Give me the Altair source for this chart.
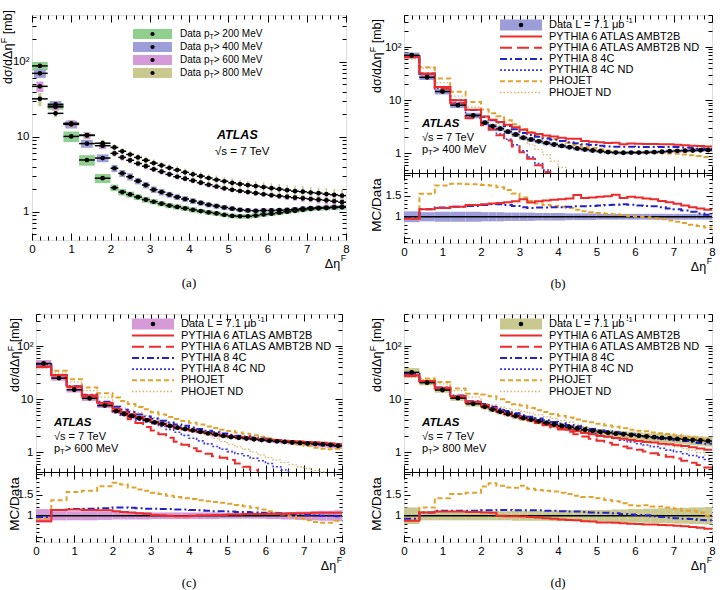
import altair as alt
import pandas as pd

FONT = "Liberation Sans"
SERIF = "Liberation Serif"

# ---------------- data ----------------
BIN_EDGES = [0.0, 0.4, 0.8, 1.2, 1.6, 2.0] + [round(2.0 + 0.2 * i, 1) for i in range(1, 31)]

# measured d(sigma)/d(Delta eta^F) [mb], one value per bin
D200 = [88, 25.5, 10.1, 4.9, 2.8, 2.09, 1.83, 1.70, 1.57, 1.45, 1.36, 1.28, 1.21, 1.16, 1.11, 1.06, 1.02, 0.98,
        0.95, 0.91, 0.88, 0.87, 0.87, 0.89, 0.92, 0.94, 0.97, 1.00, 1.03, 1.06, 1.09, 1.11, 1.12, 1.14, 1.15]
D400 = [70, 27, 14.6, 8.1, 5.2, 3.8, 3.25, 2.93, 2.57, 2.27, 1.97, 1.83, 1.69, 1.57, 1.48, 1.39, 1.31, 1.24,
        1.19, 1.14, 1.10, 1.06, 1.04, 1.03, 1.04, 1.04, 1.05, 1.06, 1.08, 1.10, 1.12, 1.13, 1.14, 1.15, 1.16]
D600 = [47, 25, 15.1, 10.4, 7.6, 6.0, 5.3, 4.85, 4.4, 4.05, 3.68, 3.42, 3.15, 2.93, 2.76, 2.6, 2.44, 2.29,
        2.17, 2.05, 1.96, 1.89, 1.83, 1.77, 1.71, 1.66, 1.62, 1.58, 1.54, 1.51, 1.48, 1.45, 1.42, 1.38, 1.34]
D800 = [32, 20.5, 14.9, 10.5, 8.2, 7.2, 6.4, 5.8, 5.3, 4.85, 4.45, 4.15, 3.85, 3.6, 3.35, 3.15, 2.98, 2.82,
        2.67, 2.55, 2.43, 2.34, 2.26, 2.2, 2.13, 2.06, 2.0, 1.94, 1.88, 1.85, 1.8, 1.77, 1.72, 1.68, 1.64]

# relative total uncertainties (band half-heights)
E200 = [0.13, 0.10, 0.16, 0.16, 0.14, 0.10, 0.10, 0.09, 0.09, 0.09, 0.08, 0.08, 0.08, 0.08, 0.08, 0.08, 0.07, 0.07,
        0.07, 0.07, 0.07, 0.07, 0.07, 0.07, 0.07, 0.07, 0.07, 0.07, 0.07, 0.07, 0.07, 0.07, 0.07, 0.07, 0.07]
E400 = [0.13, 0.11, 0.12, 0.12, 0.12, 0.11, 0.11, 0.11, 0.10, 0.10, 0.10, 0.10, 0.09, 0.09, 0.09, 0.09, 0.08, 0.08,
        0.08, 0.08, 0.07, 0.07, 0.07, 0.07, 0.07, 0.07, 0.07, 0.07, 0.07, 0.07, 0.07, 0.07, 0.07, 0.07, 0.07]
E600 = [0.16, 0.11, 0.11, 0.11, 0.10, 0.09, 0.09, 0.09, 0.09, 0.09, 0.08, 0.08, 0.08, 0.08, 0.08, 0.08, 0.08, 0.08,
        0.08, 0.07, 0.07, 0.07, 0.07, 0.07, 0.07, 0.08, 0.08, 0.09, 0.09, 0.10, 0.10, 0.11, 0.12, 0.12, 0.13]
E800 = [0.20, 0.11, 0.11, 0.11, 0.11, 0.11, 0.11, 0.11, 0.11, 0.12, 0.12, 0.12, 0.12, 0.12, 0.13, 0.13, 0.13, 0.13,
        0.14, 0.14, 0.14, 0.14, 0.15, 0.15, 0.16, 0.16, 0.17, 0.17, 0.18, 0.18, 0.19, 0.19, 0.20, 0.20, 0.21]

# MC / Data ratios
R400_P6 = [0.95, 1.18, 1.21, 1.24, 1.28, 1.30, 1.32, 1.33, 1.35, 1.37, 1.42, 1.34, 1.37, 1.39, 1.41, 1.42, 1.44, 1.52,
           1.45, 1.46, 1.48, 1.49, 1.53, 1.45, 1.48, 1.46, 1.44, 1.42, 1.38, 1.35, 1.31, 1.27, 1.23, 1.20, 1.17]
R400_P8 = [0.97, 1.18, 1.22, 1.24, 1.26, 1.28, 1.30, 1.30, 1.28, 1.26, 1.23, 1.21, 1.22, 1.22, 1.23, 1.23, 1.24, 1.25,
           1.25, 1.26, 1.27, 1.28, 1.29, 1.30, 1.29, 1.27, 1.26, 1.25, 1.23, 1.20, 1.18, 1.15, 1.12, 1.08, 1.05]
R400_PH = [0.95, 1.55, 1.75, 1.79, 1.78, 1.76, 1.75, 1.71, 1.64, 1.56, 1.46, 1.38, 1.32, 1.28, 1.26, 1.24, 1.21, 1.17,
           1.13, 1.11, 1.09, 1.07, 1.06, 1.04, 1.02, 1.00, 0.99, 0.96, 0.94, 0.91, 0.88, 0.85, 0.81, 0.78, 0.74]
R600_P6 = [0.87, 1.14, 1.15, 1.14, 1.13, 1.11, 1.09, 1.08, 1.06, 1.05, 1.02, 1.01, 1.00, 0.99, 0.99, 1.00, 1.01, 1.01,
           1.02, 1.02, 1.03, 1.03, 1.04, 1.04, 1.04, 1.05, 1.05, 1.05, 1.06, 1.06, 1.06, 1.07, 1.07, 1.07, 1.07]
R600_P8 = [0.97, 1.14, 1.16, 1.17, 1.18, 1.20, 1.20, 1.19, 1.18, 1.17, 1.17, 1.16, 1.16, 1.15, 1.15, 1.14, 1.13, 1.12,
           1.11, 1.11, 1.10, 1.09, 1.09, 1.08, 1.07, 1.06, 1.06, 1.05, 1.04, 1.03, 1.02, 1.01, 1.00, 1.00, 0.99]
R600_PH = [0.93, 1.37, 1.57, 1.60, 1.71, 1.79, 1.75, 1.68, 1.63, 1.60, 1.55, 1.52, 1.48, 1.45, 1.42, 1.40, 1.37, 1.35,
           1.33, 1.31, 1.29, 1.26, 1.23, 1.19, 1.15, 1.11, 1.07, 1.03, 0.99, 0.94, 0.89, 0.85, 0.83, 0.83, 0.88]
R800_P6 = [0.88, 1.08, 1.10, 1.10, 1.09, 1.08, 1.07, 1.00, 0.99, 0.99, 0.98, 0.97, 0.96, 0.94, 0.93, 0.91, 0.90, 0.89,
           0.87, 0.86, 0.84, 0.84, 0.83, 0.82, 0.81, 0.80, 0.79, 0.79, 0.78, 0.77, 0.76, 0.75, 0.73, 0.71, 0.69]
R800_P8 = [0.93, 1.08, 1.12, 1.12, 1.12, 1.13, 1.13, 1.14, 1.14, 1.13, 1.13, 1.13, 1.13, 1.12, 1.12, 1.11, 1.10, 1.10,
           1.09, 1.08, 1.07, 1.07, 1.06, 1.04, 1.03, 1.02, 1.01, 0.99, 0.97, 0.96, 0.94, 0.93, 0.92, 0.90, 0.89]
R800_PH = [0.88, 1.20, 1.42, 1.52, 1.55, 1.70, 1.78, 1.72, 1.68, 1.67, 1.72, 1.65, 1.62, 1.60, 1.58, 1.55, 1.52, 1.48,
           1.45, 1.45, 1.42, 1.38, 1.35, 1.30, 1.25, 1.24, 1.25, 1.22, 1.22, 1.20, 1.17, 1.12, 1.12, 1.08, 1.00]

# non-diffractive MC predictions [mb]
ND400_P6 = [64, 31, 16.5, 8.8, 4.6, 3.4, 2.8, 2.2, 1.75, 1.35, 1.05, 0.8, 0.6, 0.45, 0.34, 0.26, 0.2, 0.15,
            0.115, 0.09, 0.07, 0.055, 0.043, 0.034, 0.027, 0.021, 0.017, 0.014, 0.011, 0.009, 0.007, 0.006, 0.005, 0.004, 0.0035]
ND400_P8 = [65, 31, 16.8, 9.0, 5.0, 3.6, 2.95, 2.35, 1.85, 1.45, 1.12, 0.86, 0.65, 0.49, 0.37, 0.28, 0.21, 0.16,
            0.12, 0.095, 0.075, 0.06, 0.047, 0.037, 0.03, 0.024, 0.019, 0.015, 0.012, 0.01, 0.008, 0.0065, 0.0053, 0.0043, 0.0035]
ND400_PH = [60, 40, 21.5, 12, 7.4, 5.1, 4.2, 3.4, 2.7, 2.2, 1.85, 1.5, 1.2, 0.95, 0.72, 0.55, 0.42, 0.33,
            0.26, 0.2, 0.16, 0.125, 0.1, 0.08, 0.064, 0.051, 0.041, 0.033, 0.027, 0.022, 0.018, 0.015, 0.012, 0.01, 0.008]
ND600_P6 = [40, 28, 17, 11.3, 7.9, 5.9, 5.0, 4.2, 3.6, 3.0, 2.6, 2.2, 1.9, 1.6, 1.4, 1.2, 1.05, 0.95,
            0.85, 0.8, 0.72, 0.62, 0.54, 0.47, 0.41, 0.36, 0.31, 0.27, 0.23, 0.2, 0.17, 0.15, 0.13, 0.11, 0.095]
ND600_P8 = [41, 28.5, 17.3, 11.6, 8.1, 5.6, 5.0, 4.5, 4.1, 3.8, 3.5, 3.1, 2.7, 2.4, 2.1, 1.85, 1.65, 1.45,
            1.3, 1.15, 1.04, 0.95, 0.87, 0.78, 0.7, 0.62, 0.54, 0.47, 0.41, 0.36, 0.31, 0.27, 0.23, 0.2, 0.17]
ND600_PH = [40, 31, 21, 14.5, 11, 7.5, 6.8, 6.2, 5.6, 5.0, 4.5, 4.0, 3.6, 3.2, 2.9, 2.65, 2.35, 2.1,
            1.85, 1.6, 1.42, 1.28, 1.15, 1.02, 0.9, 0.8, 0.72, 0.65, 0.59, 0.54, 0.5, 0.46, 0.43, 0.4, 0.37]
ND800_P6 = [27.5, 21.5, 16, 11.2, 8.6, 7.3, 6.7, 6.0, 5.4, 4.9, 4.4, 4.0, 3.6, 3.25, 2.95, 2.7, 2.45, 2.2,
            2.0, 1.82, 1.66, 1.52, 1.4, 1.3, 1.2, 1.12, 1.04, 0.97, 0.9, 0.83, 0.77, 0.7, 0.64, 0.58, 0.52]
ND800_P8 = [28, 21.8, 16.5, 11.6, 8.9, 7.6, 7.0, 6.4, 5.9, 5.4, 4.9, 4.5, 4.1, 3.8, 3.5, 3.2, 2.95, 2.7,
            2.5, 2.3, 2.12, 1.97, 1.83, 1.7, 1.58, 1.47, 1.38, 1.29, 1.2, 1.11, 1.03, 0.95, 0.88, 0.81, 0.74]
ND800_PH = [26, 23.5, 19.5, 14.5, 11, 8.4, 7.8, 7.2, 6.7, 6.3, 5.9, 5.5, 5.1, 4.7, 4.35, 4.0, 3.7, 3.4,
            3.1, 2.85, 2.6, 2.42, 2.26, 2.1, 1.95, 1.82, 1.7, 1.58, 1.47, 1.37, 1.27, 1.18, 1.09, 1.0, 0.9]

MC_NAMES = ["PYTHIA 6 ATLAS AMBT2B", "PYTHIA 6 ATLAS AMBT2B ND", "PYTHIA 8 4C",
            "PYTHIA 8 4C ND", "PHOJET", "PHOJET ND"]

# ---------------- style ----------------
GREEN = "#8fd08f"
PURPLE = "#9d9dd9"
PINK = "#d69ad8"
OLIVE = "#c9c88f"
RED = "#ee2b2b"
BLUE = "#2323c8"
BLUE_DOT = "#3b3bf0"
ORANGE = "#e2a32e"
TAN = "#d8b368"
MC_STYLE = [  # color, width, dash
    (RED, 2.0, None), (RED, 2.0, [12, 5]), (BLUE, 2.0, [7, 3, 2, 3]),
    (BLUE_DOT, 1.6, [2, 2]), (ORANGE, 2.0, [5, 3]), (TAN, 1.3, [1.5, 2]),
]

HM, HR = 158, 70          # main / ratio heights of panels (b)-(d)
WA, HA = 314, 225         # panel (a)
YA_DOM = [0.42, 420]
YM_DOM = [0.43, 400]
YR_DOM = [0.37, 2.05]

XS = alt.Scale(domain=[0, 8], nice=False, zero=False)
Y_A = alt.Scale(type="log", domain=YA_DOM, nice=False)
Y_M = alt.Scale(type="log", domain=YM_DOM, nice=False, range=[HM, 0], clamp=True)
Y_R = alt.Scale(domain=YR_DOM, nice=False, zero=False, range=[HM + HR, HM])

X_TICKS = [round(0.2 * i, 1) for i in range(41)]
R_TICKS = [round(0.1 * i, 1) for i in range(4, 21)]


def log_ticks(lo, hi):
    out = []
    for dec in (0.1, 1, 10, 100):
        for m in range(1, 10):
            v = round(m * dec, 4)
            if lo <= v <= hi and v not in out:
                out.append(v)
    return out


X_MAJ = "datum.value % 1 == 0"
X_LAB = "datum.value % 1 == 0 ? format(datum.value, 'd') : ''"
LOG_MAJ = "datum.value == 1 || datum.value == 10 || datum.value == 100"
LOG_LAB = "datum.value == 100 ? '10²' : datum.value == 10 ? '10' : datum.value == 1 ? '1' : ''"
R_MAJ = "datum.value == 0.5 || datum.value == 1 || datum.value == 1.5 || datum.value == 2"
R_LAB = "datum.value == 1 ? '1' : datum.value == 1.5 ? '1.5' : ''"


def mk_axis(orient, values, major_test, label_expr=None, major=7, minor=4, offset=None, domain=False):
    kw = dict(orient=orient, values=values, title=None, grid=False, domain=domain,
              ticks=True, tickColor="black", tickWidth=1,
              tickSize={"condition": {"test": major_test, "value": -major}, "value": -minor})
    if domain:
        kw.update(domainColor="black", domainWidth=1.2)
    if offset is not None:
        kw["offset"] = offset
    if label_expr is None:
        kw["labels"] = False
    else:
        kw.update(labels=True, labelExpr=label_expr, labelFont=FONT, labelFontSize=11.5,
                  labelColor="black", labelPadding=major + 3, labelFlush=False,
                  labelOverlap=False, labelBound=False)
    return alt.Axis(**kw)


def bins_df(values, rel_err, frac=1.0, ratio=False):
    rows = []
    for i, v in enumerate(values):
        lo, hi = BIN_EDGES[i], BIN_EDGES[i + 1]
        c = (lo + hi) / 2
        hw = (hi - lo) / 2 * frac
        base = 1.0 if ratio else v
        rows.append(dict(lo=lo, hi=hi, c=c, v=v, blo=c - hw, bhi=c + hw,
                         ylo=base * (1 - rel_err[i]), yhi=base * (1 + rel_err[i])))
    return pd.DataFrame(rows)


def step_df(values, floor=None):
    """histogram outline; stops (with the vertical drop) where it leaves the frame"""
    rows = []
    for i, v in enumerate(values):
        if floor is not None and v < floor:
            rows.append(dict(x=BIN_EDGES[i], y=v, k=2 * i))
            break
        rows.append(dict(x=BIN_EDGES[i], y=v, k=2 * i))
        rows.append(dict(x=BIN_EDGES[i + 1], y=v, k=2 * i + 1))
    return pd.DataFrame(rows)


def step_line(values, yscale, color, width, dash=None, floor=None):
    kw = dict(color=color, strokeWidth=width, clip=True)
    if dash:
        kw["strokeDash"] = dash
    return alt.Chart(step_df(values, floor)).mark_line(**kw).encode(
        x=alt.X("x:Q", scale=XS, axis=None),
        y=alt.Y("y:Q", scale=yscale, axis=None),
        order="k:Q")


def txt(s, x, y, size=11, align="left", angle=None, font=FONT, style=None, weight=None,
        baseline="middle"):
    kw = dict(align=align, baseline=baseline, fontSize=size, font=font, color="black")
    if angle is not None:
        kw["angle"] = angle
    if style:
        kw["fontStyle"] = style
    if weight:
        kw["fontWeight"] = weight
    return alt.Chart(pd.DataFrame({"t": [s]})).mark_text(**kw).encode(
        text="t:N", x=alt.value(x), y=alt.value(y))


def leg_line(x0, x1, y, color, width, dash=None):
    kw = dict(color=color, strokeWidth=width)
    if dash:
        kw["strokeDash"] = dash
    return alt.Chart(pd.DataFrame({"a": [0]})).mark_rule(**kw).encode(
        x=alt.value(x0), x2=alt.value(x1), y=alt.value(y))


def leg_box(x0, x1, y, h, color):
    return alt.Chart(pd.DataFrame({"a": [0]})).mark_rect(color=color).encode(
        x=alt.value(x0), x2=alt.value(x1), y=alt.value(y - h / 2), y2=alt.value(y + h / 2))


def leg_dot(x, y, size=20):
    return alt.Chart(pd.DataFrame({"a": [0]})).mark_circle(color="black", opacity=1, size=size).encode(
        x=alt.value(x), y=alt.value(y))


def ytitle(x, y_end, size=12.5):
    w_mb = 2.223 * size
    w_f = 0.611 * size * 0.7
    return [
        txt(" [mb]", x, y_end, size, align="right", angle=270),
        txt("F", x - size * 0.35, y_end + w_mb, size * 0.7, align="right", angle=270),
        txt("dσ/dΔη", x, y_end + w_mb + w_f + 0.5, size, align="right", angle=270),
    ]


def xtitle(x_right, y, size=12.5):
    w_f = 0.611 * size * 0.7
    return [txt("F", x_right, y - size * 0.45, size * 0.7, align="right"),
            txt("Δη", x_right - w_f - 0.5, y, size, align="right")]


def pt_text(x, y, prefix, mev, size):
    w_pre = {"p": 0.556, "Data p": 2.946}[prefix] * size
    return [txt(prefix, x, y, size),
            txt("T", x + w_pre, y + size * 0.32, size * 0.7),
            txt(f" > {mev} MeV", x + w_pre + 0.611 * size * 0.7, y, size)]


# ---------------- panel (a) ----------------
def panel_a():
    series = [(D200, E200, GREEN, 1.0, 200), (D400, E400, PURPLE, 0.75, 400),
              (D600, E600, PINK, 0.45, 600), (D800, E800, OLIVE, 0.2, 800)]
    yt = log_ticks(*YA_DOM)
    layers = []
    for i, (d, e, col, frac, _) in enumerate(series):
        df = bins_df(d, e, frac)
        layers.append(alt.Chart(df).mark_rect(color=col, clip=True).encode(
            x=alt.X("blo:Q", scale=XS, axis=mk_axis("bottom", X_TICKS, X_MAJ, X_LAB) if i == 0 else None),
            x2="bhi:Q",
            y=alt.Y("ylo:Q", scale=Y_A, axis=mk_axis("left", yt, LOG_MAJ, LOG_LAB) if i == 0 else None),
            y2="yhi:Q"))
    for d, e, col, frac, _ in series:
        df = bins_df(d, e, frac)
        layers.append(alt.Chart(df).mark_rule(color="black", strokeWidth=1.5, clip=True).encode(
            x=alt.X("lo:Q", scale=XS, axis=None), x2="hi:Q",
            y=alt.Y("v:Q", scale=Y_A, axis=None)))
    for i, (d, e, col, frac, _) in enumerate(series):
        df = bins_df(d, e, frac)
        last = i == len(series) - 1
        layers.append(alt.Chart(df).mark_circle(color="black", opacity=1, size=22, clip=True).encode(
            x=alt.X("c:Q", scale=XS, axis=mk_axis("top", X_TICKS, X_MAJ) if last else None),
            y=alt.Y("v:Q", scale=Y_A, axis=mk_axis("right", yt, LOG_MAJ) if last else None)))
    rows = [19, 32, 45, 58]
    for (d, e, col, frac, mev), ry in zip(series, rows):
        layers.append(leg_box(101, 140, ry, 10, col))
        layers.append(leg_dot(120.5, ry, 18))
        layers += pt_text(148, ry, "Data p", mev, 10)
    layers.append(txt("ATLAS", 185, 120, 12.5, style="italic", weight="bold"))
    layers.append(txt("√s = 7 TeV", 183, 137, 11.5))
    layers += ytitle(-24, -5)
    layers += xtitle(WA, HA + 24)
    layers.append(txt("(a)", WA / 2, HA + 43, 13, align="center", font=SERIF))
    return alt.layer(*layers).properties(width=WA, height=HA).resolve_axis(x="independent", y="independent")


# ---------------- panels (b), (c), (d): main + ratio stacked in one view ----------------
def panel_mc(D, E, R6, R8, RPH, ND6, ND8, NDPH, band, mev, caption, W, tx=-27):
    P6 = [r * d for r, d in zip(R6, D)]
    P8 = [r * d for r, d in zip(R8, D)]
    PH = [r * d for r, d in zip(RPH, D)]
    mc_vals = [P6, ND6, P8, ND8, PH, NDPH]
    yt = log_ticks(*YM_DOM)
    df = bins_df(D, E)
    L = [alt.Chart(df).mark_rect(color=band, clip=True).encode(
        x=alt.X("lo:Q", scale=XS, axis=mk_axis("bottom", X_TICKS, X_MAJ, offset=-HR, domain=True)),
        x2="hi:Q",
        y=alt.Y("ylo:Q", scale=Y_M, axis=mk_axis("left", yt, LOG_MAJ, LOG_LAB)),
        y2="yhi:Q")]
    for idx in [5, 4, 3, 2, 1, 0]:
        col, w, dash = MC_STYLE[idx]
        L.append(step_line(mc_vals[idx], Y_M, col, w, dash, floor=YM_DOM[0]))
    L.append(alt.Chart(df).mark_rule(color="black", strokeWidth=1.5, clip=True).encode(
        x=alt.X("lo:Q", scale=XS, axis=None), x2="hi:Q",
        y=alt.Y("v:Q", scale=Y_M, axis=None)))
    L.append(alt.Chart(df).mark_circle(color="black", opacity=1, size=24, clip=True).encode(
        x=alt.X("c:Q", scale=XS, axis=mk_axis("top", X_TICKS, X_MAJ)),
        y=alt.Y("v:Q", scale=Y_M, axis=mk_axis("right", yt, LOG_MAJ))))
    # ratio part
    rdf = bins_df(D, E, ratio=True)
    L.append(alt.Chart(rdf).mark_rect(color=band, clip=True).encode(
        x=alt.X("lo:Q", scale=XS, axis=mk_axis("bottom", X_TICKS, X_MAJ, X_LAB)),
        x2="hi:Q",
        y=alt.Y("ylo:Q", scale=Y_R, axis=mk_axis("left", R_TICKS, R_MAJ, R_LAB, major=6, minor=3)),
        y2="yhi:Q"))
    ones = [d / d for d in D]
    L.append(alt.Chart(step_df(ones)).mark_line(color="black", strokeWidth=1.6, clip=True).encode(
        x=alt.X("x:Q", scale=XS, axis=mk_axis("top", X_TICKS, X_MAJ, offset=-HM)),
        y=alt.Y("y:Q", scale=Y_R, axis=mk_axis("right", R_TICKS, R_MAJ, major=6, minor=3)),
        order="k:Q"))
    for idx, rv in [(4, RPH), (2, R8), (0, R6)]:
        col, w, dash = MC_STYLE[idx]
        L.append(step_line(rv, Y_R, col, w, dash))
    # legend
    L.append(leg_box(96, 138, 10, 11, band))
    L.append(leg_dot(117, 10, 20))
    L.append(txt("Data L = 7.1 μb", 145, 10, 11))
    L.append(txt("-1", 145 + 77, 6, 7.7))
    for k, name in enumerate(MC_NAMES):
        ry = 21.5 + 11.2 * k
        col, w, dash = MC_STYLE[k]
        L.append(leg_line(96, 138, ry, col, w, dash))
        L.append(txt(name, 145, ry, 11))
    L.append(txt("ATLAS", 18, 109, 11.5, style="italic", weight="bold"))
    L.append(txt("√s = 7 TeV", 18, 123, 11))
    L += pt_text(18, 134.5, "p", mev, 11)
    L += ytitle(tx, 4)
    L.append(txt("MC/Data", tx, HM + HR / 2 - 3, 13.5, align="center", angle=270))
    L += xtitle(W, HM + HR + 24)
    L.append(txt(caption, W / 2, HM + HR + 41, 13, align="center", font=SERIF))
    return (alt.layer(*L).properties(width=W, height=HM + HR)
            .resolve_scale(y="independent")
            .resolve_axis(x="independent", y="independent"))


pb = panel_mc(D400, E400, R400_P6, R400_P8, R400_PH, ND400_P6, ND400_P8, ND400_PH, PURPLE, 400, "(b)", 308)
pc = panel_mc(D600, E600, R600_P6, R600_P8, R600_PH, ND600_P6, ND600_P8, ND600_PH, PINK, 600, "(c)", 306, tx=-21)
pd_ = panel_mc(D800, E800, R800_P6, R800_P8, R800_PH, ND800_P6, ND800_P8, ND800_PH, OLIVE, 800, "(d)", 308)

chart = alt.concat(panel_a(), pb, pc, pd_, columns=2, spacing={"row": 71, "column": 58},
                   bounds="flush", center={"column": True, "row": False}).properties(
    autosize=alt.AutoSizeParams(type="none"),
    padding={"left": 32, "top": 15, "right": 692, "bottom": 575},
).configure_view(stroke="black", strokeWidth=1.2).configure(background="white", font=FONT)

chart.save("out.html", embed_options={"renderer": "svg", "actions": False})
